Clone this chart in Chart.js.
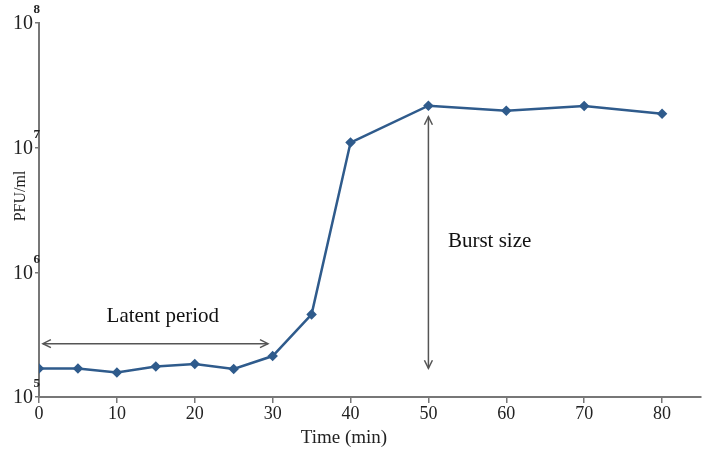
<!DOCTYPE html>
<html>
<head>
<meta charset="utf-8">
<script src="https://cdn.jsdelivr.net/npm/chart.js@4"></script>
<style>
  html, body { margin: 0; padding: 0; background: #fff; }
  #wrap { width: 709px; height: 458px; }
</style>
</head>
<body>
<div id="wrap"><canvas id="growth" width="709" height="458"></canvas></div>
<script>
// one-step growth curve
const times = [0, 5, 10, 15, 20, 25, 30, 35, 40, 50, 60, 70, 80];
const pfu = [1.69e5, 1.69e5, 1.57e5, 1.76e5, 1.84e5, 1.68e5, 2.13e5, 4.6e5, 1.10e7, 2.17e7, 1.98e7, 2.16e7, 1.87e7];
const xTicks = [0, 10, 20, 30, 40, 50, 60, 70, 80];
const yTicks = [1e5, 1e6, 1e7, 1e8];

const FONT = "'Liberation Serif', 'Times New Roman', serif";
const LINE = "#2f5b8c";
const AXIS = "#777";
const ARROW = "#555";

function arrowHead(ctx, x, y, angle) {
  ctx.save();
  ctx.translate(x, y);
  ctx.rotate(angle);
  ctx.beginPath();
  ctx.moveTo(-8, -4);
  ctx.lineTo(0, 0);
  ctx.lineTo(-8, 4);
  ctx.stroke();
  ctx.restore();
}

const extras = {
  id: "extras",
  afterDraw(chart) {
    const ctx = chart.ctx;
    const xs = chart.scales.x;
    const ys = chart.scales.y;
    ctx.save();

    // y tick labels 10^n
    ctx.fillStyle = "#222";
    yTicks.forEach(v => {
      const py = ys.getPixelForValue(v);
      ctx.font = "20px " + FONT;
      ctx.textAlign = "right";
      ctx.textBaseline = "middle";
      ctx.fillText("10", 33, py + 1);
      ctx.font = "bold 13px " + FONT;
      ctx.textAlign = "left";
      ctx.fillText(String(Math.round(Math.log10(v))), 33.5, py - 13);
    });

    // axis titles
    ctx.font = "19px " + FONT;
    ctx.textAlign = "center";
    ctx.textBaseline = "middle";
    ctx.fillText("Time (min)", 344, 438);
    ctx.save();
    ctx.translate(21, 196);
    ctx.rotate(-Math.PI / 2);
    ctx.font = "16px " + FONT;
    ctx.fillText("PFU/ml", 0, 0);
    ctx.restore();

    // latent period arrow
    ctx.strokeStyle = ARROW;
    ctx.lineWidth = 1.5;
    const ly = ys.getPixelForValue(2.68e5);
    const lx1 = xs.getPixelForValue(0.5);
    const lx2 = xs.getPixelForValue(29.4);
    ctx.beginPath();
    ctx.moveTo(lx1, ly);
    ctx.lineTo(lx2, ly);
    ctx.stroke();
    arrowHead(ctx, lx1, ly, Math.PI);
    arrowHead(ctx, lx2, ly, 0);

    ctx.font = "21px " + FONT;
    ctx.fillStyle = "#111";
    ctx.textAlign = "center";
    ctx.fillText("Latent period", xs.getPixelForValue(15.9), ys.getPixelForValue(4.45e5));

    // burst size arrow
    const bx = xs.getPixelForValue(50);
    const by1 = ys.getPixelForValue(1.77e7);
    const by2 = ys.getPixelForValue(1.70e5);
    ctx.beginPath();
    ctx.moveTo(bx, by1);
    ctx.lineTo(bx, by2);
    ctx.stroke();
    arrowHead(ctx, bx, by1, -Math.PI / 2);
    arrowHead(ctx, bx, by2, Math.PI / 2);

    ctx.textAlign = "left";
    ctx.fillText("Burst size", xs.getPixelForValue(52.5), ys.getPixelForValue(1.76e6));

    ctx.restore();
  }
};

new Chart(document.getElementById("growth"), {
  type: "line",
  data: {
    datasets: [{
      data: times.map((t, i) => ({ x: t, y: pfu[i] })),
      borderColor: LINE,
      backgroundColor: LINE,
      borderWidth: 2.5,
      pointStyle: "rectRot",
      pointRadius: 3.5,
      tension: 0
    }]
  },
  options: {
    responsive: false,
    animation: false,
    events: [],
    layout: { padding: { left: 0, top: 23, right: 8, bottom: 0 } },
    plugins: { legend: { display: false }, tooltip: { enabled: false } },
    scales: {
      x: {
        type: "linear",
        min: 0,
        max: 85,
        afterBuildTicks: s => { s.ticks = xTicks.map(v => ({ value: v })); },
        afterFit: s => { s.height = 61; },
        grid: { display: true, drawOnChartArea: false, drawTicks: true, tickLength: 6, color: AXIS, lineWidth: 1.5 },
        border: { color: AXIS, width: 2 },
        ticks: { color: "#222", font: { family: FONT, size: 18 }, padding: 0, maxRotation: 0 }
      },
      y: {
        type: "logarithmic",
        min: 1e5,
        max: 1e8,
        afterBuildTicks: s => { s.ticks = yTicks.map(v => ({ value: v })); },
        afterFit: s => { s.width = 39; },
        grid: { display: true, drawOnChartArea: false, drawTicks: true, tickLength: 4, color: AXIS, lineWidth: 1.5 },
        border: { color: AXIS, width: 2 },
        ticks: { callback: () => "" }
      }
    }
  },
  plugins: [extras]
});
</script>
</body>
</html>
